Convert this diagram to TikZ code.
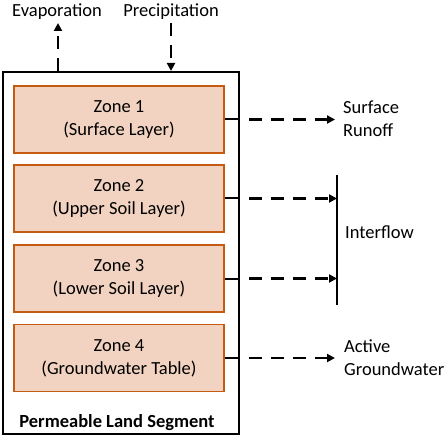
\documentclass[tikz,border=0pt]{standalone}
\usepackage{fontspec}
\setmainfont{Carlito}
\usetikzlibrary{arrows.meta,calc}
\definecolor{zonefill}{RGB}{242,211,193}
\definecolor{zoneedge}{RGB}{197,90,17}
\begin{document}
\begin{tikzpicture}[x=1pt,y=1pt,
  every node/.style={font=\fontsize{18.5}{23}\selectfont},
  zone/.style={draw=zoneedge, fill=zonefill, line width=1.5pt, minimum width=210pt, minimum height=67pt, align=center, inner sep=0pt},
  outbox/.style={draw=black, line width=2pt, minimum width=236pt, minimum height=362pt, inner sep=0pt},
  flow/.style={line width=2.6pt, dash pattern=on 13pt off 9pt, -{Triangle[length=8pt,width=8pt]}},
  stub/.style={line width=2pt},
  lbl/.style={align=left, inner sep=0pt}
]
\useasboundingbox (0,0) rectangle (447,437);
\node[outbox] (seg) at (121,184) {};
\node[zone] (z1) at (119,317.5) {Zone 1\\(Surface Layer)};
\node[zone] (z2) at (119,238.5) {Zone 2\\(Upper Soil Layer)};
\node[zone] (z3) at (119,158.5) {Zone 3\\(Lower Soil Layer)};
\node[zone] (z4) at (119,79) {Zone 4\\(Groundwater Table)};
\node[inner sep=0pt, font=\fontsize{18.5}{23}\selectfont\bfseries] (segl) at (117,14) {Permeable Land Segment};
\node[inner sep=0pt] (evap) at (57,425.5) {Evaporation};
\node[inner sep=0pt] (prec) at (171,425.5) {Precipitation};
\coordinate (evtip) at (58,414);
\coordinate (prtop) at (171,414);
\draw[flow] (seg.north -| evtip) -- (evtip);
\draw[flow] (prtop) -- (seg.north -| prtop);
\node[lbl, anchor=west] (runoff) at (343,318) {Surface\\Runoff};
\node[lbl, anchor=west] (inter) at (345,205) {Interflow};
\node[lbl, anchor=west] (agw) at (344,79) {Active\\Groundwater};
\coordinate (itop) at (337,262);
\coordinate (ibot) at (337,132);
\draw[line width=1.6pt] (itop) -- (ibot);
\coordinate (r1) at (335,0);
% zone 1
\draw[stub] (z1.east) -- (z1.east -| seg.east);
\draw[flow, dash phase=13pt] (z1.east -| seg.east) -- (z1.east -| r1);
% zone 2
\draw[stub] (z2.east) -- (z2.east -| seg.east);
\draw[flow, dash phase=13pt] (z2.east -| seg.east) -- (z2.east -| itop);
% zone 3
\draw[stub] (z3.east) -- (z3.east -| seg.east);
\draw[flow, dash phase=13pt] (z3.east -| seg.east) -- (z3.east -| itop);
% zone 4
\draw[stub] (z4.east) -- (z4.east -| seg.east);
\draw[flow, dash phase=13pt] (z4.east -| seg.east) -- (z4.east -| r1);
\end{tikzpicture}
\end{document}
